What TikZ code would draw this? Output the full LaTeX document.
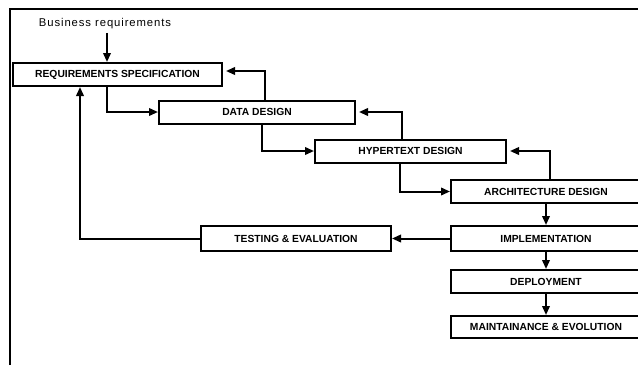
\documentclass[tikz,border=0pt]{standalone}
\usepackage{fontspec}
\setmainfont{Liberation Sans}
\usetikzlibrary{arrows.meta}
\begin{document}
\begin{tikzpicture}[x=1pt,y=-1pt,
  stage/.style={draw, line width=2pt, minimum height=23pt, inner sep=0pt,
    font=\fontsize{10.3}{12}\selectfont\bfseries},
  flow/.style={line width=2pt, -{Triangle[length=9pt,width=7.5pt]}},
  back/.style={flow, shorten >=3pt},
  frame/.style={line width=1.3pt}]
\useasboundingbox (0,0) rectangle (638,365);
\clip (0,0) rectangle (638,365);

% outer frame (top and left edges)
\draw[frame] (10,365) -- (10,9) -- (638,9);

% input label
\node[font=\fontsize{11.3}{13}\selectfont\addfontfeatures{LetterSpace=8}] (biz) at (105,24) {Business requirements};

% process stages
\node[stage, minimum width=209pt] (req)   at (117.5,74.5) {REQUIREMENTS SPECIFICATION};
\node[stage, minimum width=196pt] (dd)    at (257,112)    {DATA DESIGN};
\node[stage, minimum width=191pt] (hyp)   at (410.5,151)  {HYPERTEXT DESIGN};
\node[stage, minimum width=190pt] (arch)  at (546,191.5)  {ARCHITECTURE DESIGN};
\node[stage, minimum width=190pt, minimum height=25pt] (impl) at (546,238.5) {IMPLEMENTATION};
\node[stage, minimum width=190pt, minimum height=25pt] (test) at (296,238.5) {TESTING \& EVALUATION};
\node[stage, minimum width=190pt] (dep)   at (546,281.5)  {DEPLOYMENT};
\node[stage, minimum width=190pt, minimum height=22pt] (maint) at (546,327) {MAINTAINANCE \& EVOLUTION};

% forward flow
\draw[flow] (biz.south -| 107,0) -- (req.north -| 107,0);
\draw[flow] (req.south -| 107,0) |- (dd.west);
\draw[flow] (dd.south -| 262,0) |- (hyp.west);
\draw[flow] (hyp.south -| 400,0) |- (arch.west);
\draw[flow] (arch.south) -- (impl.north);
\draw[flow] (impl.south) -- (dep.north);
\draw[flow] (dep.south) -- (maint.north);
\draw[flow] (impl.west) -- (test.east);

% feedback loops
\draw[back] (dd.north -| 265,0) |- ([yshift=3.5pt]req.east);
\draw[back] (hyp.north -| 402,0) |- (dd.east);
\draw[back] (arch.north -| 550,0) |- (hyp.east);
\draw[flow] (test.west) -| (req.south -| 80,0);
\end{tikzpicture}
\end{document}
